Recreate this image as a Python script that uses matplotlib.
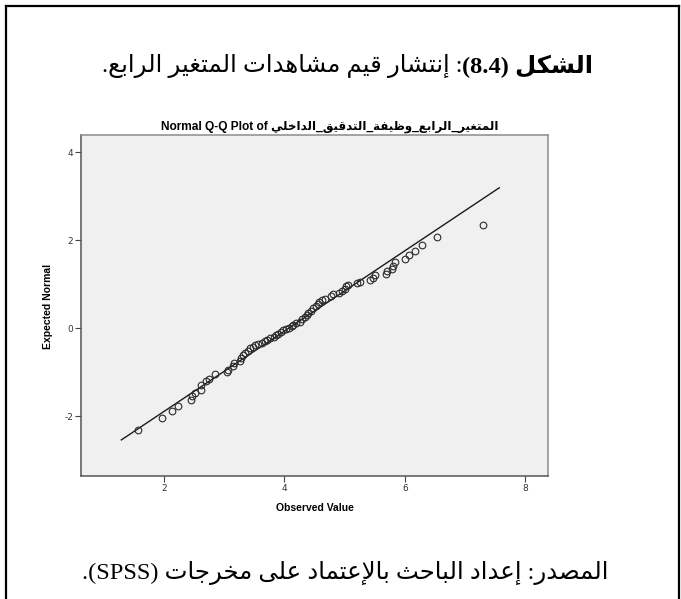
import re
import matplotlib
matplotlib.use('Agg')
import matplotlib.pyplot as plt
from matplotlib.lines import Line2D

# values
observed = [1.56, 1.97, 2.14, 2.23, 2.45, 2.46, 2.51, 2.61, 2.62, 2.69,
            2.75, 2.84, 3.04, 3.07, 3.14, 3.16, 3.26, 3.28, 3.31, 3.35,
            3.39, 3.43, 3.47, 3.51, 3.56, 3.62, 3.67, 3.71, 3.76, 3.82,
            3.86, 3.90, 3.94, 3.98, 4.03, 4.07, 4.12, 4.15, 4.20, 4.26,
            4.30, 4.34, 4.37, 4.40, 4.44, 4.48, 4.52, 4.55, 4.58, 4.62,
            4.67, 4.77, 4.80, 4.91, 4.95, 5.00, 5.02, 5.06, 5.21, 5.26,
            5.42, 5.47, 5.51, 5.69, 5.70, 5.78, 5.81, 5.83, 6.00, 6.07,
            6.17, 6.29, 6.53, 7.30]
expected = [-2.32, -2.05, -1.88, -1.76, -1.64, -1.55, -1.48, -1.41, -1.29, -1.21,
            -1.15, -1.05, -1.00, -0.95, -0.85, -0.80, -0.74, -0.68, -0.62, -0.57,
            -0.51, -0.46, -0.42, -0.38, -0.36, -0.33, -0.30, -0.27, -0.23, -0.19,
            -0.16, -0.13, -0.09, -0.05, -0.02, 0.01, 0.04, 0.08, 0.11, 0.15,
            0.20, 0.26, 0.30, 0.34, 0.38, 0.45, 0.50, 0.56, 0.60, 0.63,
            0.66, 0.72, 0.78, 0.81, 0.84, 0.89, 0.95, 0.99, 1.02, 1.04,
            1.10, 1.15, 1.20, 1.24, 1.29, 1.35, 1.42, 1.50, 1.57, 1.67,
            1.76, 1.90, 2.07, 2.35]
line_x = [1.29, 7.57]
line_y = [-2.54, 3.19]
x_ticks = [2, 4, 6, 8]
y_ticks = [-2, 0, 2, 4]

title_bold = 'الشكل (8.4)'
title_rest = ': إنتشار قيم مشاهدات المتغير الرابع.'
chart_title = 'Normal Q-Q Plot of '
var_name = 'المتغير_الرابع_وظيفة_التدقيق_الداخلي'
x_label = 'Observed Value'
y_label = 'Expected Normal'
source_text = 'المصدر: إعداد الباحث بالإعتماد على مخرجات (SPSS).'

# --- small arabic shaper (matplotlib has no text shaping) ---
# letter -> (isolated form, kind) ; kind 1 = joins right only, 2 = joins both sides
FORMS = {
    'ء': (0xFE80, 0), 'آ': (0xFE81, 1), 'أ': (0xFE83, 1), 'ؤ': (0xFE85, 1), 'إ': (0xFE87, 1),
    'ئ': (0xFE89, 2), 'ا': (0xFE8D, 1), 'ب': (0xFE8F, 2), 'ة': (0xFE93, 1), 'ت': (0xFE95, 2),
    'ث': (0xFE99, 2), 'ج': (0xFE9D, 2), 'ح': (0xFEA1, 2), 'خ': (0xFEA5, 2), 'د': (0xFEA9, 1),
    'ذ': (0xFEAB, 1), 'ر': (0xFEAD, 1), 'ز': (0xFEAF, 1), 'س': (0xFEB1, 2), 'ش': (0xFEB5, 2),
    'ص': (0xFEB9, 2), 'ض': (0xFEBD, 2), 'ط': (0xFEC1, 2), 'ظ': (0xFEC5, 2), 'ع': (0xFEC9, 2),
    'غ': (0xFECD, 2), 'ف': (0xFED1, 2), 'ق': (0xFED5, 2), 'ك': (0xFED9, 2), 'ل': (0xFEDD, 2),
    'م': (0xFEE1, 2), 'ن': (0xFEE5, 2), 'ه': (0xFEE9, 2), 'و': (0xFEED, 1), 'ى': (0xFEEF, 1),
    'ي': (0xFEF1, 2),
    'لآ': (0xFEF5, 1), 'لأ': (0xFEF7, 1), 'لإ': (0xFEF9, 1), 'لا': (0xFEFB, 1),
}
MIRROR = {'(': ')', ')': '('}


def shape(text):
    units = []
    i = 0
    while i < len(text):
        if text[i:i + 2] in FORMS and len(text[i:i + 2]) == 2:
            units.append(text[i:i + 2])
            i += 2
        else:
            units.append(text[i])
            i += 1
    out = []
    for k, u in enumerate(units):
        if u not in FORMS:
            out.append(u)
            continue
        base, kind = FORMS[u]
        prev = units[k - 1] if k > 0 else None
        nxt = units[k + 1] if k + 1 < len(units) else None
        join_prev = kind > 0 and prev in FORMS and FORMS[prev][1] == 2
        join_next = kind == 2 and nxt in FORMS and FORMS[nxt][1] > 0
        if join_prev and join_next:
            out.append(chr(base + 3))
        elif join_next:
            out.append(chr(base + 2))
        elif join_prev:
            out.append(chr(base + 1))
        else:
            out.append(chr(base))
    return ''.join(out)


def rtl(text):
    tokens = re.findall(r'[A-Za-z0-9]+(?:\.[0-9]+)*|.', shape(text))
    return ''.join(MIRROR.get(t, t) for t in reversed(tokens))


plt.rcParams['axes.unicode_minus'] = False

W, H = 681, 599
fig = plt.figure(figsize=(W / 100, H / 100), dpi=100)
renderer = fig.canvas.get_renderer()

serif_ar = ['Liberation Serif', 'DejaVu Sans']
sans_ar = ['Liberation Sans', 'DejaVu Sans']

# outer frame
fig.add_artist(Line2D([6 / W, 6 / W], [0, 1 - 6 / H], color='black', lw=1.6))
fig.add_artist(Line2D([6 / W, 679 / W], [1 - 6 / H, 1 - 6 / H], color='black', lw=1.6))
fig.add_artist(Line2D([679 / W, 679 / W], [0, 1 - 6 / H], color='black', lw=1.6))

# plot
ax = fig.add_axes([81 / W, 1 - 476 / H, 467 / W, 341 / H])
ax.set_facecolor('#f0f0f0')
ax.plot(line_x, line_y, color='#1a1a1a', lw=1.0, zorder=2)
ax.plot(observed, expected, linestyle='none', marker='o', markersize=4.8,
        markerfacecolor='none', markeredgecolor='#2b2b2b', markeredgewidth=0.8, zorder=3)
ax.set_xlim(0.62, 8.38)
ax.set_ylim(-3.36, 4.39)
ax.set_xticks(x_ticks)
ax.set_yticks(y_ticks)
ax.tick_params(direction='out', length=4, width=0.8, color='#444444',
               labelsize=6.5, labelcolor='#333333', pad=1.5)
for side in ['left', 'bottom']:
    ax.spines[side].set_color('#555555')
    ax.spines[side].set_linewidth(1.1)
for side in ['top', 'right']:
    ax.spines[side].set_color('#8c8c8c')
    ax.spines[side].set_linewidth(1.1)

fig.text(314.5 / W, 1 - 508 / H, x_label, ha='center', va='center',
         fontsize=7.5, fontweight='bold', family=sans_ar)
fig.text(48 / W, 1 - 306 / H, y_label, ha='center', va='center', rotation=90,
         fontsize=7.5, fontweight='bold', family=sans_ar)
fig.text(330 / W, 1 - 127 / H, chart_title + rtl(var_name), ha='center', va='center',
         fontsize=8.6, fontweight='bold', family=sans_ar)

# main title: bold part on the right, regular part to its left, fitted to the width
title_y = 1 - 66 / H
right_px, left_px = 593, 100


def draw_title(fs):
    tb = fig.text(right_px / W, title_y, rtl(title_bold), ha='right', va='center',
                  fontsize=fs, fontweight='bold', family=serif_ar)
    bb = tb.get_window_extent(renderer)
    tr = fig.text(bb.x0 / W, title_y, rtl(title_rest), ha='right', va='center',
                  fontsize=fs, family=serif_ar)
    return tb, tr, right_px - tr.get_window_extent(renderer).x0


tb, tr, width = draw_title(20)
fs = 20 * (right_px - left_px) / width
tb.remove()
tr.remove()
draw_title(fs)

fig.text(345 / W, 1 - 573 / H, rtl(source_text), ha='center', va='center',
         fontsize=fs, family=serif_ar)

fig.savefig('out.png', dpi=100, facecolor='white')
